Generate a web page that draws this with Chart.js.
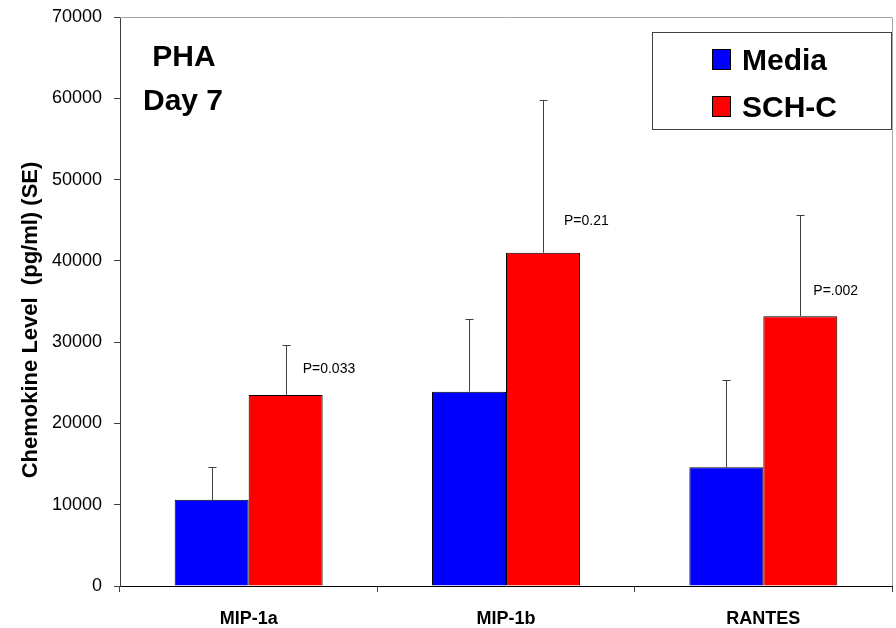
<!DOCTYPE html>
<html>
<head>
<meta charset="utf-8">
<script src="https://cdn.jsdelivr.net/npm/chart.js@4"></script>
<style>
  html, body { margin: 0; padding: 0; background: #fff; }
  #wrap { width: 896px; height: 628px; }
</style>
</head>
<body>
<div id="wrap"><canvas id="myChart" width="896" height="628"></canvas></div>
<script>
// data
const categories = ['MIP-1a', 'MIP-1b', 'RANTES'];
const seriesNames = ['Media', 'SCH-C'];
const mediaValues = [10600, 23900, 14600];
const schcValues = [23500, 41000, 33200];
const mediaSE = [4100, 9000, 10700];
const schcSE = [6200, 18800, 12400];
const pLabels = ['P=0.033', 'P=0.21', 'P=.002'];
const pLabelAt = [26700, 44900, 36300];   // y position of the p-value text, in data units
const yTicks = [0, 10000, 20000, 30000, 40000, 50000, 60000, 70000];

const FONT = "'Liberation Sans', Arial, sans-serif";
const pLabelDx = [17, 21, 13];

// error bars, frame, p-values, header text, legend
const extras = {
    id: 'extras',
    afterDatasetsDraw(chart) {
        const ctx = chart.ctx;
        const y = chart.scales.y;
        const area = chart.chartArea;
        const errs = [mediaSE, schcSE];

        ctx.save();
        // light frame on top and right
        ctx.strokeStyle = '#a6a6a6';
        ctx.lineWidth = 1;
        ctx.beginPath();
        ctx.moveTo(area.left, Math.round(area.top) + 0.5);
        ctx.lineTo(Math.round(area.right) + 0.5, Math.round(area.top) + 0.5);
        ctx.lineTo(Math.round(area.right) + 0.5, area.bottom);
        ctx.stroke();

        // error bars (upper only)
        ctx.strokeStyle = '#404040';
        chart.data.datasets.forEach((ds, i) => {
            chart.getDatasetMeta(i).data.forEach((bar, j) => {
                const top = Math.round(y.getPixelForValue(ds.data[j] + errs[i][j])) + 0.5;
                const x = Math.round(bar.x) + 0.5;
                ctx.beginPath();
                ctx.moveTo(x, bar.y);
                ctx.lineTo(x, top);
                ctx.moveTo(x - 4, top);
                ctx.lineTo(x + 4, top);
                ctx.stroke();
            });
        });

        // p-values next to the SCH-C bars
        ctx.fillStyle = '#000';
        ctx.font = '14px ' + FONT;
        ctx.textAlign = 'left';
        ctx.textBaseline = 'middle';
        chart.getDatasetMeta(1).data.forEach((bar, j) => {
            ctx.fillText(pLabels[j], bar.x + pLabelDx[j], y.getPixelForValue(pLabelAt[j]));
        });

        // header text
        ctx.font = 'bold 30px ' + FONT;
        ctx.textAlign = 'center';
        ctx.textBaseline = 'alphabetic';
        ctx.fillText('PHA', 184, 66);
        ctx.fillText('Day 7', 183, 110);

        // y title
        ctx.save();
        ctx.translate(31, 320);
        ctx.rotate(-Math.PI / 2);
        ctx.font = 'bold 22px ' + FONT;
        ctx.textBaseline = 'middle';
        ctx.fillText('Chemokine Level  (pg/ml) (SE)', 0, 0);
        ctx.restore();

        // legend box
        ctx.fillStyle = '#fff';
        ctx.fillRect(652, 32, 240, 98);
        ctx.strokeStyle = '#404040';
        ctx.strokeRect(652.5, 32.5, 239, 97);
        ctx.font = 'bold 30px ' + FONT;
        ctx.textAlign = 'left';
        chart.data.datasets.forEach((ds, i) => {
            const top = 49 + i * 47;
            ctx.fillStyle = ds.backgroundColor;
            ctx.fillRect(712, top, 19, 21);
            ctx.strokeStyle = '#000';
            ctx.strokeRect(712.5, top + 0.5, 18, 20);
            ctx.fillStyle = '#000';
            ctx.fillText(ds.label, 742, 70 + i * 47);
        });
        ctx.restore();
    }
};

new Chart(document.getElementById('myChart'), {
    type: 'bar',
    data: {
        labels: categories,
        datasets: [{
            label: seriesNames[0],
            data: mediaValues,
            backgroundColor: '#0000ff',
            borderColor: '#000',
            borderWidth: 1,
            categoryPercentage: 0.575,
            barPercentage: 1
        }, {
            label: seriesNames[1],
            data: schcValues,
            backgroundColor: '#ff0000',
            borderColor: '#000',
            borderWidth: 1,
            categoryPercentage: 0.575,
            barPercentage: 1
        }]
    },
    options: {
        responsive: false,
        animation: false,
        layout: { padding: { top: 17, right: 4, left: 0, bottom: 0 } },
        plugins: {
            legend: { display: false },
            tooltip: { enabled: false }
        },
        scales: {
            x: {
                afterFit(scale) { scale.height = 42; },
                grid: { drawOnChartArea: false, color: '#404040', tickLength: 6, offset: true },
                border: { color: '#000' },
                ticks: { color: '#000', padding: 16, font: { family: FONT, size: 18, weight: 'bold' } }
            },
            y: {
                min: 0,
                max: 70000,
                afterFit(scale) {
                    scale.width = 120;
                    scale.paddingTop = 0;
                    scale.paddingBottom = 0;
                },
                afterBuildTicks(scale) { scale.ticks = yTicks.map(v => ({ value: v })); },
                grid: { drawOnChartArea: false, color: '#404040', tickLength: 6 },
                border: { color: '#404040' },
                ticks: {
                    color: '#000',
                    padding: 12,
                    font: { family: FONT, size: 18 },
                    callback: v => String(v)
                }
            }
        }
    },
    plugins: [extras]
});
</script>
</body>
</html>
